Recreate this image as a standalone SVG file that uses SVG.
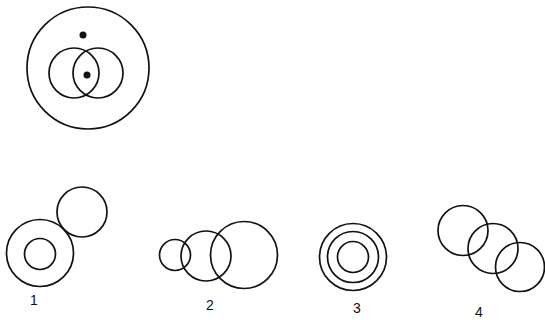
<svg xmlns="http://www.w3.org/2000/svg" width="545" height="320" viewBox="0 0 545 320">
<style>
.c{fill:none;stroke:#111;stroke-width:1.7}
.d{fill:#111}
.t{font-family:"Liberation Sans",Arial,sans-serif;font-size:14px;fill:#111;text-anchor:middle}
</style>
<rect width="545" height="320" fill="#fff"/>
<g id="top-figure">
<circle class="c" cx="88" cy="68" r="61"/>
<circle class="c" cx="74" cy="73" r="25"/>
<circle class="c" cx="98" cy="73" r="25"/>
<circle class="d" cx="83" cy="35" r="3.5"/>
<circle class="d" cx="87" cy="75" r="3.5"/>
</g>
<g id="option-1">
<circle class="c" cx="40" cy="253" r="33.5"/>
<circle class="c" cx="40" cy="254" r="15.5"/>
<circle class="c" cx="82" cy="212" r="25"/>
<text class="t" x="34" y="305">1</text>
</g>
<g id="option-2">
<circle class="c" cx="175" cy="255" r="15.5"/>
<circle class="c" cx="206" cy="256" r="25"/>
<circle class="c" cx="244" cy="255" r="33.5"/>
<text class="t" x="210" y="310">2</text>
</g>
<g id="option-3">
<circle class="c" cx="353" cy="257" r="33.5"/>
<circle class="c" cx="353" cy="257" r="25.5"/>
<circle class="c" cx="353" cy="257" r="15.5"/>
<text class="t" x="357" y="313">3</text>
</g>
<g id="option-4">
<circle class="c" cx="463" cy="230.5" r="25"/>
<circle class="c" cx="493" cy="248.5" r="25"/>
<circle class="c" cx="520" cy="267" r="24.5"/>
<text class="t" x="479" y="317">4</text>
</g>
<g id="connectors"/>
</svg>
